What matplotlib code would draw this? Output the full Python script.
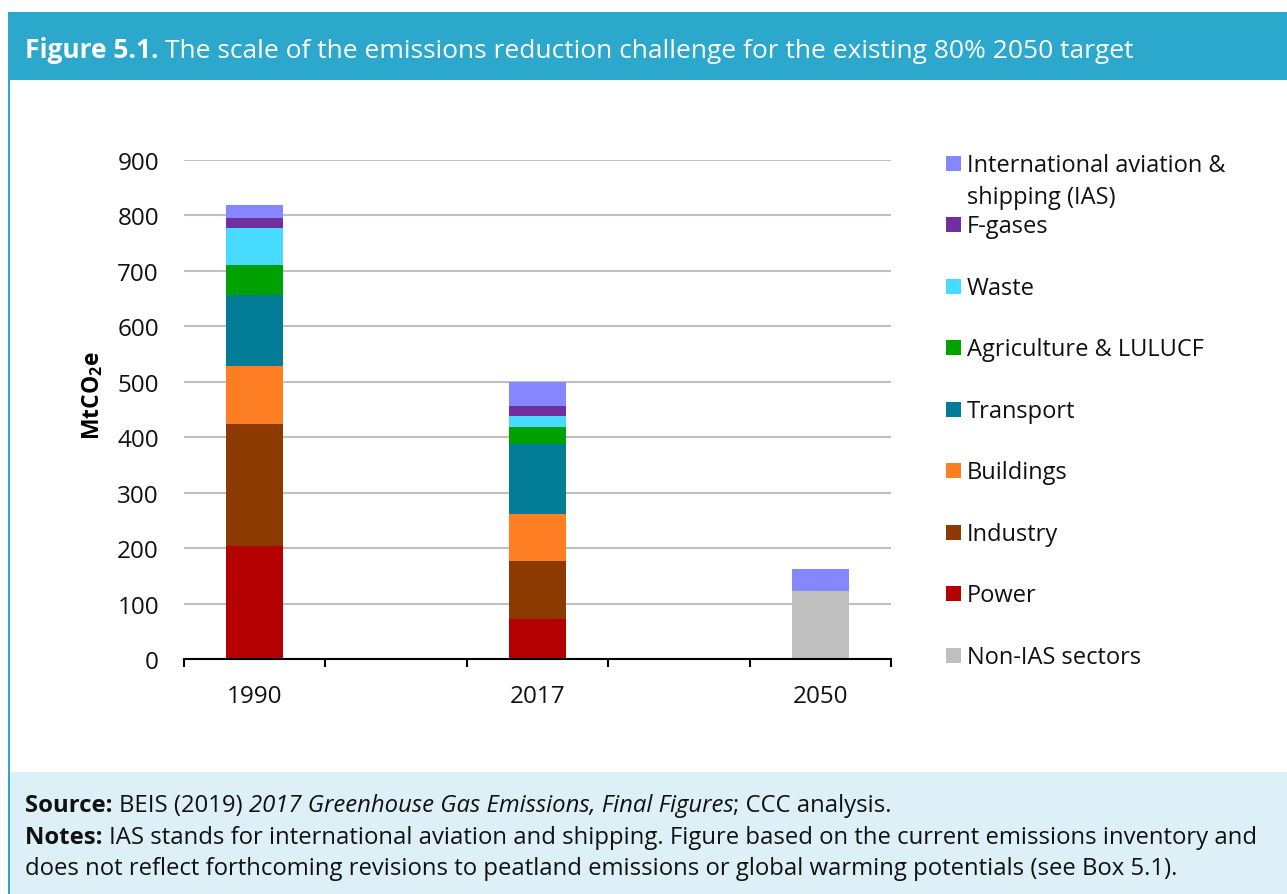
import matplotlib
matplotlib.use('Agg')
import matplotlib.pyplot as plt
from matplotlib.patches import Rectangle
import numpy as np

plt.rcParams['font.family'] = ['Open Sans', 'DejaVu Sans']
plt.rcParams['mathtext.fontset'] = 'custom'
plt.rcParams['mathtext.rm'] = 'Open Sans'
plt.rcParams['mathtext.bf'] = 'Open Sans:bold'

# ---------------- data ----------------
categories = ['1990', '', '2017', '', '2050']
non_ias     = [0,   0, 0,   0, 123]
power       = [203, 0, 72,  0, 0]
industry    = [220, 0, 104, 0, 0]
buildings   = [106, 0, 86,  0, 0]
transport   = [127, 0, 126, 0, 0]
agriculture = [54,  0, 31,  0, 0]
waste       = [68,  0, 20,  0, 0]
fgases      = [17,  0, 17,  0, 0]
ias         = [23,  0, 43,  0, 40]

series_labels = ['Non-IAS sectors', 'Power', 'Industry', 'Buildings', 'Transport',
                 'Agriculture & LULUCF', 'Waste', 'F-gases',
                 'International aviation &\nshipping (IAS)']
series_values = [non_ias, power, industry, buildings, transport,
                 agriculture, waste, fgases, ias]
series_colors = ['#BFBFBF', '#B40000', '#8C3A00', '#FE7E23', '#037C97',
                 '#01A101', '#47DBFF', '#7030A0', '#8686FF']
yticks = [0, 100, 200, 300, 400, 500, 600, 700, 800, 900]

W, H = 1287, 895
fig = plt.figure(figsize=(W / 100, H / 100), dpi=100)
fig.patch.set_facecolor('white')

def fx(px):
    return px / W

def fy(py):
    return 1 - py / H

TEAL = '#2BA8CC'
TXT = '#111111'
# header band
fig.patches.append(Rectangle((fx(8), fy(81)), fx(W) - fx(8), fy(13) - fy(81),
                             transform=fig.transFigure, facecolor=TEAL,
                             edgecolor='none', zorder=0))
# footer band
fig.patches.append(Rectangle((fx(8), fy(H)), 1 - fx(8), fy(773) - fy(H),
                             transform=fig.transFigure, facecolor='#DDEFF7',
                             edgecolor='none', zorder=0))
# left border line
fig.patches.append(Rectangle((fx(8), fy(H)), fx(2), fy(13) - fy(H),
                             transform=fig.transFigure, facecolor=TEAL,
                             edgecolor='none', zorder=1))

renderer = fig.canvas.get_renderer()

def draw_segs(segs, x, y, sz, color):
    cx = x
    texts = []
    for s, w, st in segs:
        t = fig.text(fx(cx), fy(y), s, fontsize=sz, fontweight=w,
                     fontstyle=st, color=color, va='baseline', ha='left')
        bb = t.get_window_extent(renderer=renderer)
        cx += bb.width
        texts.append(t)
    return texts, cx - x

def fit_size(segs, size, target):
    texts, width = draw_segs(segs, 0, 0, size, 'k')
    for t in texts:
        t.remove()
    return size * target / width

# title
title_segs = [('Figure 5.1. ', 'bold', 'normal'),
              ('The scale of the emissions reduction challenge for the existing 80% 2050 target',
               'normal', 'normal')]
draw_segs(title_segs, 25, 58, fit_size(title_segs, 20, 1106), 'white')

# footer
line1 = [('Source: ', 'bold', 'normal'), ('BEIS (2019) ', 'normal', 'normal'),
         ('2017 Greenhouse Gas Emissions, Final Figures', 'normal', 'italic'),
         ('; CCC analysis.', 'normal', 'normal')]
line2 = [('Notes: ', 'bold', 'normal'),
         ('IAS stands for international aviation and shipping. Figure based on the current emissions inventory and',
          'normal', 'normal')]
line3 = [('does not reflect forthcoming revisions to peatland emissions or global warming potentials (see Box 5.1).',
          'normal', 'normal')]
foot_size = fit_size(line3, 15, 1148)
draw_segs(line1, 25, 812, foot_size, TXT)
draw_segs(line2, 25, 844, foot_size, TXT)
draw_segs(line3, 25, 875, foot_size, TXT)

# ---------------- axes ----------------
ax = fig.add_axes([fx(184), fy(660), fx(891) - fx(184), fy(161) - fy(660)])
x = np.arange(len(categories))
bottom = np.zeros(len(categories))
for vals, col in zip(series_values, series_colors):
    v = np.array(vals, dtype=float)
    ax.bar(x, v, width=0.4, bottom=bottom, color=col, edgecolor='none', zorder=3)
    bottom += v

ax.set_xlim(-0.5, len(categories) - 0.5)
ax.set_ylim(0, 900)
ax.set_yticks(yticks)
ax.set_yticklabels([str(v) for v in yticks])
ax.yaxis.grid(True, color='#BFBFBF', lw=1.5)
ax.set_axisbelow(True)
for s in ['left', 'right', 'top']:
    ax.spines[s].set_visible(False)
ax.spines['bottom'].set_color('black')
ax.spines['bottom'].set_linewidth(1.5)
ax.spines['bottom'].set_zorder(4)

label_idx = [i for i, c in enumerate(categories) if c]
ax.set_xticks(label_idx)
ax.set_xticklabels([categories[i] for i in label_idx])
ax.set_xticks(np.arange(-0.5, len(categories)), minor=True)
ax.tick_params(axis='x', which='major', length=0, pad=18, labelsize=17.5, labelcolor=TXT)
ax.tick_params(axis='x', which='minor', length=6, width=1.5, direction='out', color='black')
ax.tick_params(axis='y', length=0, pad=18, labelsize=17.5, labelcolor=TXT)

fig.text(fx(93), fy(396), r'MtCO$_\mathbf{2}$e', rotation=90, fontsize=16.5,
         fontweight='bold', ha='center', va='center', color='black')

# ---------------- legend ----------------
leg_order = list(range(len(series_labels)))[::-1]
y0, dy = 164, 61.5
for k, i in enumerate(leg_order):
    yc = y0 + k * dy
    fig.patches.append(Rectangle((fx(946), fy(yc + 7.5)), fx(15), fy(yc - 7.5) - fy(yc + 7.5),
                                 transform=fig.transFigure, facecolor=series_colors[i],
                                 edgecolor='none'))
    for j, line in enumerate(series_labels[i].split('\n')):
        fig.text(fx(967), fy(yc + 8 + 32 * j), line, fontsize=17, color=TXT,
                 ha='left', va='baseline')

fig.savefig('out.png', dpi=100)
